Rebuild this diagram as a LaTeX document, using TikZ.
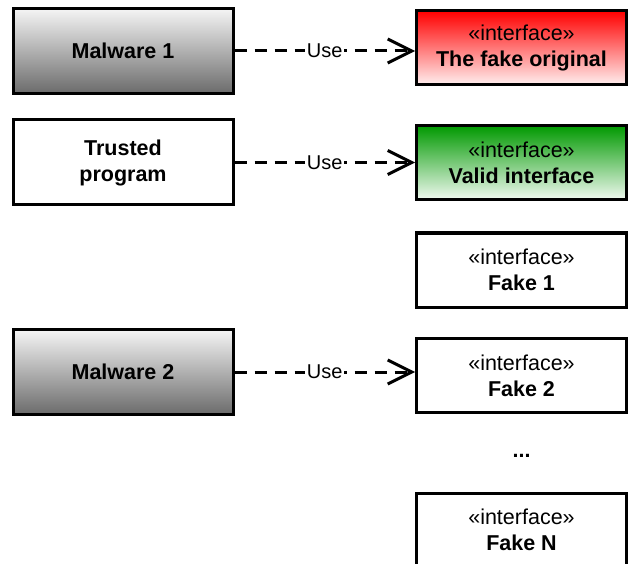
\documentclass[tikz,border=0pt]{standalone}
\usepackage{fontspec}
\setmainfont{Liberation Sans}
\usetikzlibrary{arrows.meta}
\begin{document}
\begin{tikzpicture}[x=1pt,y=-1pt,
  box/.style={draw=black, line width=3pt, align=center, inner sep=0pt,
    font=\fontsize{21.5}{26}\selectfont},
  client/.style={box, minimum width=220pt, minimum height=85pt, font=\fontsize{21.5}{26}\selectfont\bfseries},
  iface/.style={box, minimum width=210pt, minimum height=74pt},
  malware/.style={client, top color=black!4, bottom color=black!58},
  fakeorig/.style={iface, top color=red, bottom color=red!6},
  validif/.style={iface, top color=green!60!black, bottom color=green!60!black!6},
  use/.style={draw=black, line width=3pt, dash pattern=on 12pt off 8pt,
    -{Straight Barb[length=24pt,width=24pt,line width=3pt]}},
  uselabel/.style={fill=white, inner sep=1.5pt, font=\fontsize{20}{22}\selectfont}
]
\useasboundingbox (0,0) rectangle (629,564);

% clients
\node[malware] (m1) at (123,51) {Malware 1};
\node[client]  (tp) at (123,162.5) {Trusted\\program};
\node[malware] (m2) at (123,372) {Malware 2};

% interfaces
\node[fakeorig] (fo) at (521.5,48) {«interface»\\\textbf{The fake original}};
\node[validif]  (vi) at (521.5,162.5) {«interface»\\\textbf{Valid interface}};
\node[iface]    (f1) at (521.5,270) {«interface»\\\textbf{Fake 1}};
\node[iface]    (f2) at (521.5,375.5) {«interface»\\\textbf{Fake 2}};
\node[font=\fontsize{21.5}{26}\selectfont\bfseries] (dots) at (521.5,456) {...};
\node[iface]    (fn) at (521.5,530) {«interface»\\\textbf{Fake N}};

% usage dependencies
\begin{scope}[line width=3pt]
\draw[use] (m1.east) -- (m1.east -| fo.west) node[uselabel, midway] {Use};
\draw[use] (tp.east) -- (tp.east -| vi.west) node[uselabel, midway] {Use};
\draw[use] (m2.east) -- (m2.east -| f2.west) node[uselabel, midway] {Use};
\end{scope}
\end{tikzpicture}
\end{document}
